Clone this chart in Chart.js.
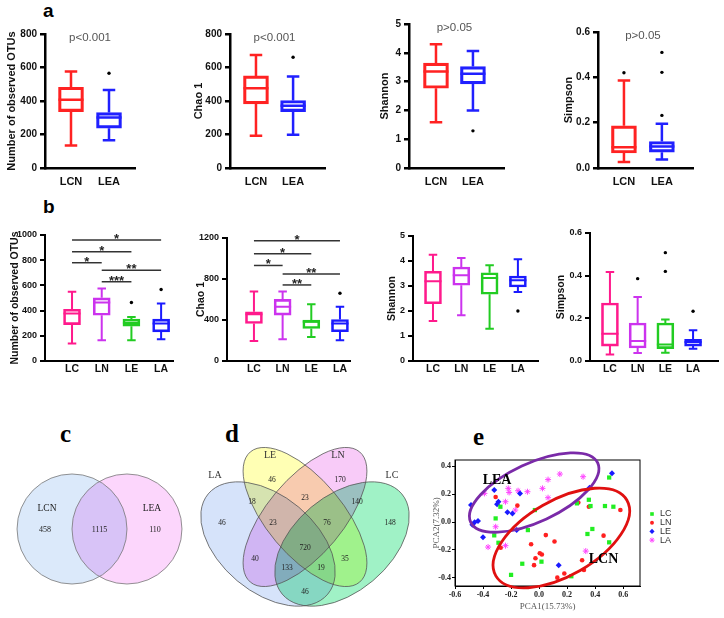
<!DOCTYPE html>
<html>
<head>
<meta charset="utf-8">
<script src="https://cdn.jsdelivr.net/npm/chart.js@4.4.1/dist/chart.umd.min.js"></script>
<style>
  body { margin: 0; background: #fff; width: 724px; height: 618px; position: relative; overflow: hidden; }
  canvas { position: absolute; }
  .tag { position: absolute; font-weight: bold; line-height: 1; }
</style>
</head>
<body>
<div class="tag" style="left:43px;top:1px;font-family:Arial,'Liberation Sans',sans-serif;font-size:19px">a</div>
<div class="tag" style="left:43px;top:197px;font-family:Arial,'Liberation Sans',sans-serif;font-size:19px">b</div>
<div class="tag" style="left:60px;top:421px;font-family:'Liberation Serif',serif;font-size:25px">c</div>
<div class="tag" style="left:225px;top:421px;font-family:'Liberation Serif',serif;font-size:25px">d</div>
<div class="tag" style="left:473px;top:424px;font-family:'Liberation Serif',serif;font-size:25px">e</div>
<script>
// ---- data ----
const aGroups = ['LCN', 'LEA'];
const bGroups = ['LC', 'LN', 'LE', 'LA'];
const aColors = ['#ff2222', '#2020ff'];
const bColors = ['#ff1a8c', '#cc33ee', '#22cc22', '#1a1aff'];

// box stats: [min, q1, median, q3, max]
const aOtus = [[135, 337, 407, 482, 576], [165, 238, 302, 331, 466]];
const aOtusOut = [[], [566]];
const aChao = [[193, 383, 476, 550, 675], [199, 337, 371, 403, 546]];
const aChaoOut = [[], [661]];
const aShannon = [[1.59, 2.77, 3.35, 3.64, 4.30], [2.0, 2.92, 3.27, 3.52, 4.06]];
const aShannonOut = [[], [1.29]];
const aSimpson = [[0.026, 0.066, 0.092, 0.186, 0.386], [0.037, 0.070, 0.095, 0.117, 0.195]];
const aSimpsonOut = [[0.42], [0.232, 0.422, 0.51]];

const bOtus = [[138, 289, 377, 411, 549], [164, 363, 464, 501, 576], [164, 276, 302, 332, 350], [172, 231, 297, 332, 456]];
const bOtusOut = [[], [], [464], [568]];
const bChao = [[196, 366, 455, 480, 677], [213, 448, 530, 602, 677], [235, 317, 383, 399, 553], [203, 285, 366, 405, 530]];
const bChaoOut = [[], [], [], [661]];
const bShannon = [[1.6, 2.29, 3.19, 3.59, 4.25], [1.83, 3.03, 3.43, 3.76, 4.12], [1.29, 2.67, 3.32, 3.53, 3.83], [2.76, 2.96, 3.23, 3.40, 4.07]];
const bShannonOut = [[], [], [], [2.0]];
const bSimpson = [[0.030, 0.070, 0.128, 0.272, 0.417], [0.0375, 0.061, 0.094, 0.178, 0.30], [0.039, 0.058, 0.077, 0.178, 0.195], [0.058, 0.070, 0.089, 0.102, 0.144]];
const bSimpsonOut = [[], [0.386], [0.42, 0.508], [0.233]];

// significance brackets: [group, group, height, label]
const bOtusSig = [[0, 3, 960, '*'], [0, 2, 867, '*'], [0, 1, 780, '*'], [1, 3, 721, '**'], [1, 2, 629, '***']];
const bChaoSig = [[0, 3, 1174, '*'], [0, 2, 1046, '*'], [0, 1, 932, '*'], [1, 3, 850, '**'], [1, 2, 742, '**']];

// Venn counts
const vennTwoSets = ['LCN', 'LEA'];
const vennTwoCounts = [458, 1115, 110]; // LCN only, shared, LEA only
const vennFourSets = ['LA', 'LE', 'LN', 'LC'];
const vennFourRegions = ['LA', 'LE', 'LN', 'LC', 'LA+LE', 'LE+LN', 'LN+LC', 'LA+LE+LN', 'LE+LN+LC', 'LA+LN', 'all', 'LA+LN+LC', 'LA+LE+LC', 'LE+LC', 'LA+LC'];
const vennFourCounts = [46, 46, 170, 148, 18, 23, 140, 23, 76, 40, 720, 133, 19, 35, 46];

// PCA scores [PCA1, PCA2]
const pcaLC = [[0.50, 0.32], [0.47, 0.115], [0.53, 0.11], [0.355, 0.16], [0.27, 0.134], [0.367, 0.115], [0.38, -0.05], [0.345, -0.086], [0.50, -0.146], [-0.03, 0.086], [-0.08, -0.058], [-0.276, 0.11], [-0.31, 0.026], [-0.32, -0.096], [-0.29, -0.149], [0.017, -0.285], [-0.12, -0.30], [-0.20, -0.38], [0.23, -0.39]];
const pcaLN = [[-0.31, 0.18], [-0.155, 0.118], [0.28, 0.14], [0.355, 0.11], [0.58, 0.086], [0.46, -0.098], [0.048, -0.094], [0.11, -0.14], [-0.057, -0.16], [0.005, -0.225], [0.02, -0.233], [-0.026, -0.26], [-0.036, -0.31], [0.307, -0.275], [0.32, -0.345], [0.18, -0.37], [0.13, -0.40], [-0.274, -0.185]];
const pcaLE = [[0.52, 0.35], [0.36, 0.247], [-0.32, 0.23], [-0.136, 0.206], [-0.29, 0.146], [-0.30, 0.127], [-0.226, 0.07], [-0.19, 0.062], [-0.486, 0.122], [-0.436, 0.007], [-0.46, -0.002], [-0.476, -0.02], [-0.40, -0.11], [-0.16, -0.058], [0.14, -0.31]];
const pcaLA = [[0.148, 0.345], [0.314, 0.326], [0.064, 0.305], [-0.22, 0.242], [-0.214, 0.213], [-0.15, 0.225], [-0.083, 0.218], [0.024, 0.242], [0.064, 0.175], [-0.39, 0.206], [-0.24, 0.146], [-0.17, 0.086], [-0.31, -0.034], [-0.364, -0.18], [-0.24, -0.17], [0.333, -0.209]];
const pcaXTicks = [-0.6, -0.4, -0.2, 0, 0.2, 0.4, 0.6];
const pcaYTicks = [-0.4, -0.2, 0, 0.2, 0.4];
// group ellipses [centre x, centre y, semi-axis a, semi-axis b, rotation deg]
const pcaEllipses = [[-0.035, 0.212, 0.50, 0.21, 25], [0.159, -0.115, 0.54, 0.27, 30]];
const pcaEllipseNames = ['LEA', 'LCN'];
const pcaEllipseNamePos = [[-0.30, 0.30], [0.46, -0.27]];

// ---- layout ----
const ARIAL = 'Arial, "Liberation Sans", sans-serif';
const SERIF = '"Liberation Serif", "Times New Roman", serif';
const vennTwoCircles = [[-0.5, 0, 1], [0.5, 0, 1]];
const vennTwoFills = ['rgb(219,233,250)', 'rgb(252,214,252)'];
const vennTwoCountPos = [[-0.99, -0.02], [0, -0.02], [1.01, -0.02]];
const vennTwoNamePos = [[-0.955, 0.38], [0.955, 0.38]];
const vennFourEllipses = [[-0.37, -0.04, 0.78, 0.48, -40], [0, 0.23, 0.85, 0.38, -50], [0, 0.23, 0.85, 0.38, 50], [0.37, -0.04, 0.78, 0.48, 40]];
const vennFourFills = ['rgb(214,227,250)', 'rgb(255,255,180)', 'rgb(248,203,248)', 'rgb(160,242,198)'];
const vennFourNamePos = [[-0.90, 0.65], [-0.35, 0.85], [0.33, 0.85], [0.87, 0.65]];
const vennFourCountPos = [[-0.83, 0.17], [-0.33, 0.60], [0.35, 0.60], [0.85, 0.17], [-0.53, 0.38], [0, 0.42], [0.52, 0.38], [-0.32, 0.17], [0.22, 0.17], [-0.50, -0.19], [0, -0.08], [-0.18, -0.28], [0.16, -0.28], [0.40, -0.19], [0, -0.52]];

function makeCanvas(x, y, w, h) {
  const c = document.createElement('canvas');
  c.width = w; c.height = h;
  c.style.left = x + 'px'; c.style.top = y + 'px';
  c.style.width = w + 'px'; c.style.height = h + 'px';
  document.body.appendChild(c);
  return c;
}

function pathEllipse(ctx, xs, ys, e) {
  const kx = Math.abs(xs.getPixelForValue(1) - xs.getPixelForValue(0));
  const ky = Math.abs(ys.getPixelForValue(1) - ys.getPixelForValue(0));
  ctx.beginPath();
  ctx.ellipse(xs.getPixelForValue(e[0]), ys.getPixelForValue(e[1]), e[2] * kx, e[3] * ky, -e[4] * Math.PI / 180, 0, Math.PI * 2);
}

function boxChart(o) {
  const [cx, cy, cw, ch] = o.cv;
  const outPts = [];
  o.outliers.forEach((list, i) => list.forEach(v => outPts.push({ x: i, y: v })));

  const drawBoxes = {
    id: 'drawBoxes',
    afterDatasetsDraw(chart) {
      const ctx = chart.ctx, xs = chart.scales.x, ys = chart.scales.y;
      const bars = chart.getDatasetMeta(1).data;
      const py = v => ys.getPixelForValue(v);
      ctx.save();
      ctx.lineWidth = o.lw;
      o.stats.forEach((s, i) => {
        const bx = bars[i].x, half = bars[i].width / 2, cap = half * 0.5;
        ctx.strokeStyle = o.colors[i];
        ctx.beginPath();
        ctx.moveTo(bx, py(s[3])); ctx.lineTo(bx, py(s[4]));
        ctx.moveTo(bx, py(s[1])); ctx.lineTo(bx, py(s[0]));
        ctx.moveTo(bx - cap, py(s[4])); ctx.lineTo(bx + cap, py(s[4]));
        ctx.moveTo(bx - cap, py(s[0])); ctx.lineTo(bx + cap, py(s[0]));
        ctx.moveTo(bx - half, py(s[2])); ctx.lineTo(bx + half, py(s[2]));
        ctx.stroke();
      });
      // significance brackets
      ctx.lineWidth = 1.5;
      ctx.textAlign = 'center';
      ctx.textBaseline = 'alphabetic';
      ctx.font = 'bold 13px ' + ARIAL;
      (o.sig || []).forEach(([g1, g2, v, lab]) => {
        const x1 = xs.getPixelForValue(g1), x2 = xs.getPixelForValue(g2), yy = py(v);
        ctx.strokeStyle = '#333';
        ctx.beginPath(); ctx.moveTo(x1, yy); ctx.lineTo(x2, yy); ctx.stroke();
        ctx.fillStyle = '#222';
        ctx.fillText(lab, (x1 + x2) / 2, yy + 3);
      });
      if (o.pText) {
        ctx.font = '11.5px ' + ARIAL;
        ctx.fillStyle = '#555';
        ctx.textBaseline = 'middle';
        ctx.fillText(o.pText, xs.getPixelForValue((o.groups.length - 1) / 2), chart.chartArea.top + 4);
      }
      ctx.restore();
    }
  };

  new Chart(makeCanvas(cx, cy, cw, ch), {
    type: 'bar',
    data: {
      datasets: [
        { type: 'scatter', data: outPts, pointRadius: 1.7, backgroundColor: '#000', borderWidth: 0 },
        {
          data: o.stats.map((s, i) => ({ x: i, y: [s[1], s[3]] })),
          backgroundColor: 'rgba(0,0,0,0)',
          borderColor: o.colors,
          borderWidth: o.lw,
          borderSkipped: false,
          barThickness: o.boxW
        }
      ]
    },
    options: {
      responsive: false,
      animation: false,
      devicePixelRatio: 1,
      layout: { padding: { left: 0, top: o.area.t - cy, right: cx + cw - o.area.r, bottom: 0 } },
      plugins: { legend: { display: false }, tooltip: { enabled: false } },
      scales: {
        x: {
          type: 'linear', min: o.xr[0], max: o.xr[1], offset: false,
          grid: { display: false, drawTicks: false },
          border: { display: true, color: '#000', width: o.lw },
          afterBuildTicks: s => { s.ticks = o.groups.map((g, i) => ({ value: i })); },
          ticks: { callback: v => o.groups[v], color: '#111', padding: o.xPad, font: { family: ARIAL, size: o.xFont, weight: 'bold' }, maxRotation: 0 },
          afterFit: s => { s.height = cy + ch - o.area.b; }
        },
        y: {
          min: 0, max: o.yMax,
          ticks: { stepSize: o.yStep, color: '#111', padding: 3, font: { family: ARIAL, size: o.tickFont, weight: 'bold' }, callback: o.fmt || (v => v) },
          grid: { drawOnChartArea: false, tickLength: 5, color: '#000', lineWidth: o.lw },
          border: { display: true, color: '#000', width: o.lw },
          title: { display: true, text: o.title, color: '#111', padding: { top: 4, bottom: 2 }, font: { family: ARIAL, size: o.titleFont, weight: 'bold' } },
          afterFit: s => { s.width = o.area.l - cx; }
        }
      }
    },
    plugins: [drawBoxes]
  });
}

const fmt1 = v => v.toFixed(1);
const aStyle = { boxW: 25, lw: 2.5, xFont: 11, tickFont: 10, titleFont: 11, xPad: 7 };
const bStyle = { boxW: 17, lw: 2, xFont: 10.5, tickFont: 9, titleFont: 10.5, xPad: 2 };

boxChart(Object.assign({ cv: [1, 0, 149, 195], area: { l: 45, r: 135, t: 34, b: 168 }, xr: [-0.684, 1.684], groups: aGroups, colors: aColors, stats: aOtus, outliers: aOtusOut, yMax: 800, yStep: 200, title: 'Number of observed OTUs', pText: 'p<0.001' }, aStyle));
boxChart(Object.assign({ cv: [188, 0, 150, 195], area: { l: 230, r: 325, t: 34, b: 168 }, xr: [-0.70, 1.86], groups: aGroups, colors: aColors, stats: aChao, outliers: aChaoOut, yMax: 800, yStep: 200, title: 'Chao 1', pText: 'p<0.001' }, aStyle));
boxChart(Object.assign({ cv: [374, 0, 150, 195], area: { l: 409, r: 504, t: 24, b: 168 }, xr: [-0.73, 1.84], groups: aGroups, colors: aColors, stats: aShannon, outliers: aShannonOut, yMax: 5, yStep: 1, title: 'Shannon', pText: 'p>0.05' }, aStyle));
boxChart(Object.assign({ cv: [558, 0, 150, 195], area: { l: 598, r: 693, t: 32, b: 168 }, xr: [-0.684, 1.82], groups: aGroups, colors: aColors, stats: aSimpson, outliers: aSimpsonOut, yMax: 0.6, yStep: 0.2, fmt: fmt1, title: 'Simpson', pText: 'p>0.05' }, aStyle));

boxChart(Object.assign({ cv: [5, 195, 180, 185], area: { l: 45, r: 173, t: 235, b: 361 }, xr: [-0.91, 3.40], groups: bGroups, colors: bColors, stats: bOtus, outliers: bOtusOut, yMax: 1000, yStep: 200, title: 'Number of observed OTUs', sig: bOtusSig }, bStyle));
boxChart(Object.assign({ cv: [191, 195, 170, 185], area: { l: 227, r: 350, t: 238, b: 361 }, xr: [-0.94, 3.35], groups: bGroups, colors: bColors, stats: bChao, outliers: bChaoOut, yMax: 1200, yStep: 400, title: 'Chao 1', sig: bChaoSig }, bStyle));
boxChart(Object.assign({ cv: [382, 195, 170, 185], area: { l: 413, r: 538, t: 236, b: 361 }, xr: [-0.706, 3.71], groups: bGroups, colors: bColors, stats: bShannon, outliers: bShannonOut, yMax: 5, yStep: 1, title: 'Shannon' }, bStyle));
boxChart(Object.assign({ cv: [551, 195, 173, 185], area: { l: 590, r: 718, t: 233, b: 361 }, xr: [-0.72, 3.9], groups: bGroups, colors: bColors, stats: bSimpson, outliers: bSimpsonOut, yMax: 0.6, yStep: 0.2, fmt: fmt1, title: 'Simpson' }, bStyle));

// ---- Venn (c) ----
const hiddenScales = (xr, yr) => ({
  x: { type: 'linear', display: false, min: xr[0], max: xr[1] },
  y: { type: 'linear', display: false, min: yr[0], max: yr[1] }
});

new Chart(makeCanvas(0, 440, 199, 178), {
  type: 'scatter',
  data: { datasets: [
    { data: vennTwoCountPos.map(([x, y]) => ({ x, y })), pointRadius: 0 },
    { data: vennTwoNamePos.map(([x, y]) => ({ x, y })), pointRadius: 0 }
  ] },
  options: {
    responsive: false, animation: false, devicePixelRatio: 1,
    plugins: { legend: { display: false }, tooltip: { enabled: false } },
    scales: hiddenScales([-1.81, 1.81], [-1.618, 1.618])
  },
  plugins: [{
    id: 'venn2',
    beforeDatasetsDraw(chart) {
      const ctx = chart.ctx, xs = chart.scales.x, ys = chart.scales.y;
      ctx.save();
      ctx.globalCompositeOperation = 'multiply';
      vennTwoCircles.forEach((c, i) => {
        pathEllipse(ctx, xs, ys, [c[0], c[1], c[2], c[2], 0]);
        ctx.fillStyle = vennTwoFills[i];
        ctx.fill();
      });
      ctx.globalCompositeOperation = 'source-over';
      ctx.strokeStyle = '#777';
      ctx.lineWidth = 0.8;
      vennTwoCircles.forEach(c => { pathEllipse(ctx, xs, ys, [c[0], c[1], c[2], c[2], 0]); ctx.stroke(); });
      ctx.restore();
    },
    afterDatasetsDraw(chart) {
      const ctx = chart.ctx;
      ctx.save();
      ctx.textAlign = 'center'; ctx.textBaseline = 'middle'; ctx.fillStyle = '#222';
      ctx.font = '8px ' + SERIF;
      chart.getDatasetMeta(0).data.forEach((p, i) => ctx.fillText(String(vennTwoCounts[i]), p.x, p.y));
      ctx.font = '9.5px ' + SERIF;
      chart.getDatasetMeta(1).data.forEach((p, i) => ctx.fillText(vennTwoSets[i], p.x, p.y));
      ctx.restore();
    }
  }]
});

// ---- Venn (d) ----
new Chart(makeCanvas(190, 440, 235, 175), {
  type: 'scatter',
  data: { datasets: [
    { data: vennFourCountPos.map(([x, y]) => ({ x, y })), pointRadius: 0 },
    { data: vennFourNamePos.map(([x, y]) => ({ x, y })), pointRadius: 0 }
  ] },
  options: {
    responsive: false, animation: false, devicePixelRatio: 1,
    plugins: { legend: { display: false }, tooltip: { enabled: false } },
    scales: hiddenScales([-1.15, 1.2], [-0.75, 1.0])
  },
  plugins: [{
    id: 'venn4',
    beforeDatasetsDraw(chart) {
      const ctx = chart.ctx, xs = chart.scales.x, ys = chart.scales.y;
      ctx.save();
      ctx.globalCompositeOperation = 'multiply';
      vennFourEllipses.forEach((e, i) => {
        pathEllipse(ctx, xs, ys, e);
        ctx.fillStyle = vennFourFills[i];
        ctx.fill();
      });
      ctx.globalCompositeOperation = 'source-over';
      ctx.strokeStyle = '#555';
      ctx.lineWidth = 0.8;
      vennFourEllipses.forEach(e => { pathEllipse(ctx, xs, ys, e); ctx.stroke(); });
      ctx.restore();
    },
    afterDatasetsDraw(chart) {
      const ctx = chart.ctx;
      ctx.save();
      ctx.textAlign = 'center'; ctx.textBaseline = 'middle'; ctx.fillStyle = '#222';
      ctx.font = '7.5px ' + SERIF;
      chart.getDatasetMeta(0).data.forEach((p, i) => ctx.fillText(String(vennFourCounts[i]), p.x, p.y));
      ctx.font = '10px ' + SERIF;
      ctx.fillStyle = '#333';
      chart.getDatasetMeta(1).data.forEach((p, i) => ctx.fillText(vennFourSets[i], p.x, p.y));
      ctx.restore();
    }
  }]
});

// ---- PCA (e) ----
const pcaArea = { l: 455, r: 640, t: 460, b: 586 };
const pcaCv = [431, 440, 293, 178];
const toPts = arr => arr.map(([x, y]) => ({ x, y }));

new Chart(makeCanvas(...pcaCv), {
  type: 'scatter',
  data: { datasets: [
    { label: 'LC', data: toPts(pcaLC), pointStyle: 'rect', pointRadius: 3, backgroundColor: '#22ee22', borderColor: '#22ee22', borderWidth: 0 },
    { label: 'LN', data: toPts(pcaLN), pointStyle: 'circle', pointRadius: 2.3, backgroundColor: '#ff2020', borderColor: '#ff2020', borderWidth: 0 },
    { label: 'LE', data: toPts(pcaLE), pointStyle: 'rectRot', pointRadius: 3, backgroundColor: '#1a1aff', borderColor: '#1a1aff', borderWidth: 0 },
    { label: 'LA', data: toPts(pcaLA), pointStyle: 'star', pointRadius: 3, backgroundColor: '#ff44ff', borderColor: '#ff44ff', borderWidth: 1 }
  ] },
  options: {
    responsive: false, animation: false, devicePixelRatio: 1,
    layout: { padding: { left: 0, top: pcaArea.t - pcaCv[1], right: pcaCv[0] + pcaCv[2] - pcaArea.r, bottom: 0 } },
    plugins: { legend: { display: false }, tooltip: { enabled: false } },
    scales: {
      x: {
        type: 'linear', min: -0.6, max: 0.72,
        afterBuildTicks: s => { s.ticks = pcaXTicks.map(v => ({ value: v })); },
        ticks: { callback: v => v.toFixed(1), color: '#222', padding: 1, font: { family: SERIF, size: 8, weight: 'bold' }, maxRotation: 0 },
        grid: { drawOnChartArea: false, tickLength: 3, color: '#000', lineWidth: 1 },
        border: { color: '#000', width: 1 },
        title: { display: true, text: 'PCA1(15.73%)', color: '#555', padding: { top: 0, bottom: 6 }, font: { family: SERIF, size: 9 } },
        afterFit: s => { s.height = pcaCv[1] + pcaCv[3] - pcaArea.b; }
      },
      y: {
        type: 'linear', min: -0.46, max: 0.446,
        afterBuildTicks: s => { s.ticks = pcaYTicks.map(v => ({ value: v })); },
        ticks: { callback: v => v.toFixed(1), color: '#222', padding: 1, font: { family: SERIF, size: 8, weight: 'bold' } },
        grid: { drawOnChartArea: false, tickLength: 3, color: '#000', lineWidth: 1 },
        border: { color: '#000', width: 1 },
        title: { display: true, text: 'PCA2(7.32%)', color: '#555', padding: { top: 0, bottom: 0 }, font: { family: SERIF, size: 9 } },
        afterFit: s => { s.width = pcaArea.l - pcaCv[0]; }
      }
    }
  },
  plugins: [{
    id: 'pcaExtras',
    afterDatasetsDraw(chart) {
      const ctx = chart.ctx, xs = chart.scales.x, ys = chart.scales.y, a = chart.chartArea;
      ctx.save();
      ctx.strokeStyle = '#000'; ctx.lineWidth = 1;
      ctx.strokeRect(a.left, a.top, a.right - a.left, a.bottom - a.top);
      const ellColors = ['#7a2aa8', '#e01010'];
      pcaEllipses.forEach((e, i) => {
        pathEllipse(ctx, xs, ys, e);
        ctx.strokeStyle = ellColors[i]; ctx.lineWidth = 2.8; ctx.stroke();
      });
      ctx.fillStyle = '#000';
      ctx.font = 'bold 14px ' + SERIF;
      ctx.textAlign = 'center'; ctx.textBaseline = 'middle';
      pcaEllipseNames.forEach((n, i) => ctx.fillText(n, xs.getPixelForValue(pcaEllipseNamePos[i][0]), ys.getPixelForValue(pcaEllipseNamePos[i][1])));
      // legend
      ctx.font = '9px ' + ARIAL;
      ctx.textAlign = 'left';
      chart.data.datasets.forEach((ds, i) => {
        const yy = a.top + 54 + i * 8.7, xx = a.right + 12;
        ctx.fillStyle = ds.backgroundColor; ctx.strokeStyle = ds.borderColor; ctx.lineWidth = ds.borderWidth;
        Chart.helpers.drawPoint(ctx, { pointStyle: ds.pointStyle, radius: ds.pointRadius * 0.85, rotation: 0, borderWidth: ds.borderWidth }, xx, yy);
        ctx.fillStyle = '#333';
        ctx.fillText(ds.label, xx + 8, yy);
      });
      ctx.restore();
    }
  }]
});
</script>
</body>
</html>
